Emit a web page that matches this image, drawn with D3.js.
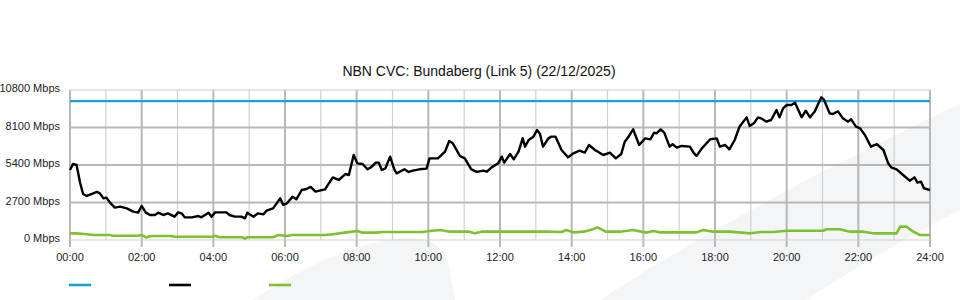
<!DOCTYPE html>
<html>
<head>
<meta charset="utf-8">
<script src="https://cdn.jsdelivr.net/npm/d3@7"></script>
<style>
  body { margin: 0; background: #fff; }
  svg { font-family: "Liberation Sans", Arial, sans-serif; }
</style>
</head>
<body>
<div id="grafico"></div>
<script>
const titulo = "NBN CVC: Bundaberg (Link 5) (22/12/2025)";
const ticksY = [0, 2700, 5400, 8100, 10800];
const ticksHoras = d3.range(0, 25);
const capacidade = 10000;

// trafego (preto)
const trafegoHora = ["00:00","00:05","00:11","00:17","00:22","00:28","00:39","00:45","00:50","00:56","01:01","01:07","01:15","01:24","01:35","01:46","01:54","02:00","02:07","02:14","02:22","02:28","02:36","02:44","02:55","03:01","03:07","03:12","03:24","03:35","03:40","03:52","03:57","04:03","04:22","04:27","04:36","04:47","04:53","04:57","05:07","05:15","05:24","05:29","05:40","05:52","05:57","06:03","06:13","06:19","06:28","06:36","06:43","06:51","07:07","07:20","07:30","07:41","07:47","07:55","08:01","08:10","08:18","08:24","08:32","08:37","08:42","08:48","08:56","09:03","09:07","09:20","09:27","09:34","09:45","09:57","10:02","10:16","10:28","10:35","10:41","10:53","11:01","11:12","11:21","11:32","11:38","11:46","11:57","12:03","12:07","12:17","12:23","12:31","12:38","12:42","12:48","12:56","13:02","13:07","13:12","13:21","13:26","13:33","13:43","13:54","14:03","14:13","14:22","14:29","14:39","14:53","15:04","15:14","15:23","15:29","15:36","15:43","15:53","16:03","16:12","16:18","16:22","16:29","16:35","16:44","16:49","16:56","17:04","17:18","17:24","17:29","17:38","17:52","18:03","18:08","18:17","18:24","18:33","18:41","18:53","18:58","19:05","19:12","19:17","19:26","19:34","19:43","19:48","19:54","20:00","20:08","20:14","20:25","20:32","20:39","20:47","20:58","21:02","21:12","21:17","21:26","21:34","21:43","21:48","21:56","22:03","22:11","22:21","22:31","22:42","22:50","22:55","23:04","23:15","23:26","23:34","23:39","23:45","23:50","24:00"];
const trafegoMbps = [5040,5470,5400,4100,3310,3170,3360,3460,3360,3000,3050,2690,2330,2400,2280,2040,1970,2450,1970,1800,1800,1970,1800,1920,1680,1990,1920,1630,1630,1730,1630,1970,1680,1990,1990,1800,1680,1680,1560,1970,1680,1920,1850,2110,2280,3000,2520,2640,3120,2930,3600,3670,3820,3480,3650,4510,4320,4750,4680,6120,5520,5470,5090,5230,5570,5570,5040,5160,6000,5090,4800,5090,4900,5000,5090,5140,5880,5880,6360,7130,6960,6050,5880,5090,4900,5000,4920,5230,5520,6000,5570,6190,5810,6360,7320,6720,7200,7440,7920,7630,6720,7320,7440,7440,6480,5950,6240,6430,6290,6840,6480,6120,6290,5880,6190,7080,7490,7970,6840,7320,7250,7730,7680,7970,7730,6720,6890,6650,6770,6720,6290,6050,6600,7250,7320,6720,6840,6530,7200,8160,8830,8210,8400,8830,8760,8520,8640,9360,8830,9480,9720,9720,9890,8830,9310,8830,9260,10270,10130,9120,9070,9260,8760,8520,8690,8160,8040,7560,6720,6910,6480,5520,5230,5090,4680,4270,4510,4130,4200,3720,3600];

// upload (verde)
const uploadHora = ["00:00","00:11","00:28","00:39","01:07","01:12","01:54","02:00","02:07","02:17","02:50","02:55","03:57","04:03","04:10","04:48","04:53","04:57","05:40","05:49","06:03","06:13","07:07","07:23","07:40","08:01","08:10","08:32","08:43","09:50","10:02","10:20","10:36","11:08","11:18","11:29","13:15","13:43","13:51","14:03","14:20","14:36","14:43","14:50","14:57","15:21","15:43","16:05","16:17","16:28","17:29","17:40","17:57","18:25","18:59","19:16","19:38","20:00","21:01","21:07","21:29","21:46","22:08","22:25","23:04","23:10","23:21","23:32","23:43","24:00"];
const uploadMbps = [480,480,410,360,360,310,310,360,190,290,290,230,230,310,200,200,100,200,200,360,290,360,360,430,530,650,530,530,580,580,650,720,600,600,480,600,600,580,720,550,600,780,910,760,600,600,720,530,650,550,550,720,600,600,480,580,580,670,670,770,770,600,600,480,480,960,960,600,360,360];

const coresLegenda = ["#1d9fdc", "#000000", "#7dc12e"];

function paraHoras(hhmm) {
  const [h, m] = hhmm.split(":").map(Number);
  return h + m / 60;
}

function desenharGrafico() {
  const largura = 960, altura = 300;
  const margem = { esq: 70, dir: 30, topo: 90, base: 60 };

  const svg = d3.select("#grafico")
    .append("svg")
    .attr("width", largura)
    .attr("height", altura);

  // marca d'agua no fundo
  svg.append("path")
    .attr("d", "M253,300 C300,268 360,240 405,238 C430,237 442,245 448,262 L455,300 Z")
    .attr("fill", "#f4f5f7");
  svg.append("path")
    .attr("d", "M600,300 C700,235 820,170 960,104 L960,210 C900,240 850,272 805,300 Z")
    .attr("fill", "#f4f5f7");

  const x = d3.scaleLinear()
    .domain([0, 24])
    .range([margem.esq, largura - margem.dir]);

  const y = d3.scaleLinear()
    .domain([0, 10800])
    .range([altura - margem.base, margem.topo]);

  // grade vertical
  svg.selectAll("line.gradeV")
    .data(ticksHoras)
    .enter()
    .append("line")
    .attr("class", "gradeV")
    .attr("x1", d => x(d))
    .attr("x2", d => x(d))
    .attr("y1", y(10800))
    .attr("y2", d => d % 2 === 0 ? y(0) + 7 : y(0))
    .attr("stroke", d => d % 2 === 0 ? "#b8b8b8" : "#d0d0d0")
    .attr("stroke-width", d => d % 2 === 0 ? 2 : 1.2);

  // grade horizontal
  svg.selectAll("line.gradeH")
    .data(ticksY)
    .enter()
    .append("line")
    .attr("class", "gradeH")
    .attr("x1", x(0))
    .attr("x2", x(24))
    .attr("y1", d => y(d))
    .attr("y2", d => y(d))
    .attr("stroke", d => (d === 0 || d === 10800) ? "#d0d0d0" : "#b8b8b8")
    .attr("stroke-width", d => (d === 0 || d === 10800) ? 1.2 : 2);

  svg.selectAll("text.rotuloY")
    .data(ticksY)
    .enter()
    .append("text")
    .attr("class", "rotuloY")
    .attr("x", margem.esq - 10)
    .attr("y", d => y(d) + 2)
    .attr("text-anchor", "end")
    .attr("font-size", "11px")
    .attr("fill", "#222")
    .text(d => `${d} Mbps`);

  svg.selectAll("text.rotuloX")
    .data(ticksHoras.filter(h => h % 2 === 0))
    .enter()
    .append("text")
    .attr("class", "rotuloX")
    .attr("x", d => x(d))
    .attr("y", y(0) + 21)
    .attr("text-anchor", "middle")
    .attr("font-size", "11px")
    .attr("fill", "#222")
    .text(d => `${String(d).padStart(2, "0")}:00`);

  svg.append("text")
    .attr("x", 479)
    .attr("y", 76)
    .attr("text-anchor", "middle")
    .attr("font-size", "14px")
    .attr("fill", "#111")
    .text(titulo);

  const linha = d3.line()
    .x(d => x(d[0]))
    .y(d => y(d[1]));

  // capacidade
  svg.append("path")
    .datum([[0, capacidade], [24, capacidade]])
    .attr("d", linha)
    .attr("fill", "none")
    .attr("stroke", coresLegenda[0])
    .attr("stroke-width", 2.4);

  const upload = uploadHora.map((h, i) => [paraHoras(h), uploadMbps[i]]);
  svg.append("path")
    .datum(upload)
    .attr("d", linha)
    .attr("fill", "none")
    .attr("stroke", coresLegenda[2])
    .attr("stroke-width", 2.6)
    .attr("stroke-linejoin", "round");

  const trafego = trafegoHora.map((h, i) => [paraHoras(h), trafegoMbps[i]]);
  svg.append("path")
    .datum(trafego)
    .attr("d", linha)
    .attr("fill", "none")
    .attr("stroke", coresLegenda[1])
    .attr("stroke-width", 2.4)
    .attr("stroke-linejoin", "round");

  // legenda (sem texto)
  svg.selectAll("line.legenda")
    .data(coresLegenda)
    .enter()
    .append("line")
    .attr("class", "legenda")
    .attr("x1", (d, i) => 69 + i * 100)
    .attr("x2", (d, i) => 91 + i * 100)
    .attr("y1", 285)
    .attr("y2", 285)
    .attr("stroke", d => d)
    .attr("stroke-width", 2.6);
}

document.addEventListener("DOMContentLoaded", desenharGrafico);
</script>
</body>
</html>
